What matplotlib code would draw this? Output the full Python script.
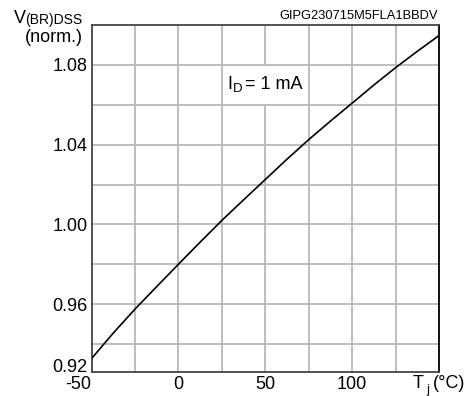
import matplotlib
matplotlib.use("Agg")
import matplotlib.pyplot as plt
from matplotlib.patches import Rectangle

plt.rcParams['font.family'] = ['Liberation Sans', 'DejaVu Sans']

# Data
temps = [-50, -37.5, -25, -12.5, 0, 12.5, 25, 37.5, 50, 62.5, 75, 87.5,
         100, 112.5, 125, 137.5, 150]
vbr_norm = [0.9327, 0.9455, 0.9575, 0.9688, 0.9800, 0.9911, 1.0020, 1.0123,
            1.0225, 1.0327, 1.0425, 1.0518, 1.0608, 1.0699, 1.0786, 1.0868,
            1.0947]

x_ticks = [-50, 0, 50, 100]
x_tick_labels = ['-50', '0', '50', '100']
y_bottom = 0.926
y_ticks = [y_bottom, 0.96, 1.00, 1.04, 1.08]
y_tick_labels = ['0.92', '0.96', '1.00', '1.04', '1.08']

W, H = 476, 396
fig = plt.figure(figsize=(W / 100, H / 100), dpi=100)
L, R, T, B = 91.5, 439, 25, 372
ax = fig.add_axes([L / W, 1 - B / H, (R - L) / W, (B - T) / H])

def fx(x):
    return x / W

def fy(y):
    return 1 - y / H

ax.set_xlim(-50, 150)
ax.set_ylim(y_bottom, 1.10)

# grid
for xv in range(-25, 150, 25):
    ax.axvline(xv, color='#b8b8b8', lw=1.3, zorder=1)
for yv in [0.94, 0.96, 0.98, 1.00, 1.02, 1.04, 1.06, 1.08]:
    ax.axhline(yv, color='#b8b8b8', lw=1.3, zorder=1)

ax.plot(temps, vbr_norm, color='black', lw=1.2, zorder=3)

ax.set_xticks(x_ticks)
ax.set_xticklabels(x_tick_labels, fontsize=13)
ax.set_yticks(y_ticks)
ax.set_yticklabels(y_tick_labels, fontsize=13)
ax.tick_params(length=0, pad=3)
ax.xaxis.get_ticklabels()[0].set_horizontalalignment('right')
ax.yaxis.get_ticklabels()[0].set_verticalalignment('baseline')

for s in ['left', 'bottom', 'top']:
    ax.spines[s].set_color('#444444')
    ax.spines[s].set_linewidth(1.3)
ax.spines['right'].set_color('black')
ax.spines['right'].set_linewidth(1.3)

# white box behind I_D label
ax.add_patch(Rectangle((25.6, 1.0606), 48.8, 0.0188, facecolor='white',
                       edgecolor='none', zorder=2))
ax.text(28.0, 1.0704, 'I', fontsize=13, va='center', ha='left', zorder=4)
ax.text(31.2, 1.0680, 'D', fontsize=9.5, va='center', ha='left', zorder=4)
ax.text(38.3, 1.0704, '= 1 mA', fontsize=13, va='center', ha='left', zorder=4)

# y axis label
fig.text(fx(14), fy(23), 'V', fontsize=13, ha='left', va='baseline')
fig.text(fx(82), fy(24), '(BR)DSS', fontsize=10, ha='right', va='baseline')
fig.text(fx(83), fy(38), '(norm.)', fontsize=13, ha='right', va='center')

# x axis label
fig.text(fx(413), fy(384), 'T', fontsize=13, ha='left', va='center')
fig.text(fx(426), fy(390), 'j', fontsize=9.5, ha='left', va='center')
fig.text(fx(433), fy(384), '(°C)', fontsize=13, ha='left', va='center')

# code label
fig.text(fx(438), fy(19), 'GIPG230715M5FLA1BBDV', fontsize=9.3, ha='right',
         va='baseline')

fig.savefig('out.png', dpi=100)
